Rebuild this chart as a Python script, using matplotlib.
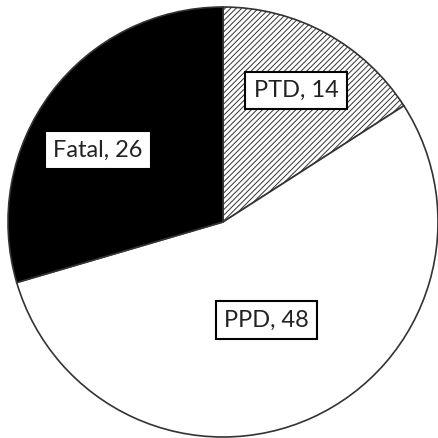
import matplotlib.pyplot as plt
import numpy as np

plt.rcParams['hatch.linewidth'] = 0.7
plt.rcParams['hatch.color'] = '#222222'

# datos del grafico
categorias = ["PTD", "PPD", "Fatal"]
valores = [14, 48, 26]

colores = ["white", "white", "black"]
tramas = ["//////", None, None]
# posicion de las etiquetas: (radio, angulo en grados)
pos_etiquetas = [(0.70, 61), (0.50, -66), (0.67, 150)]

fig = plt.figure(figsize=(4.39, 4.38), dpi=100)
ax = fig.add_axes([0, 0, 1, 1])

wedges, _ = ax.pie(valores, colors=colores, startangle=90, counterclock=False,
                   radius=1.0, wedgeprops=dict(edgecolor="#333333", linewidth=1.2))
for w, h in zip(wedges, tramas):
    if h:
        w.set_hatch(h)

for cat, val, (r, ang) in zip(categorias, valores, pos_etiquetas):
    a = np.deg2rad(ang)
    ax.text(r*np.cos(a), r*np.sin(a), f"{cat}, {val}", ha="center", va="center",
            fontsize=17, family=["Lato", "DejaVu Sans"], color="#222222",
            bbox=dict(boxstyle="square,pad=0.35", facecolor="white",
                      edgecolor="black", linewidth=1.5))

ax.set_xlim(-223/215, 216/215)
ax.set_ylim(-216/215, 222/215)
ax.set_aspect("auto")
ax.axis("off")

plt.savefig("out.png", dpi=100)
